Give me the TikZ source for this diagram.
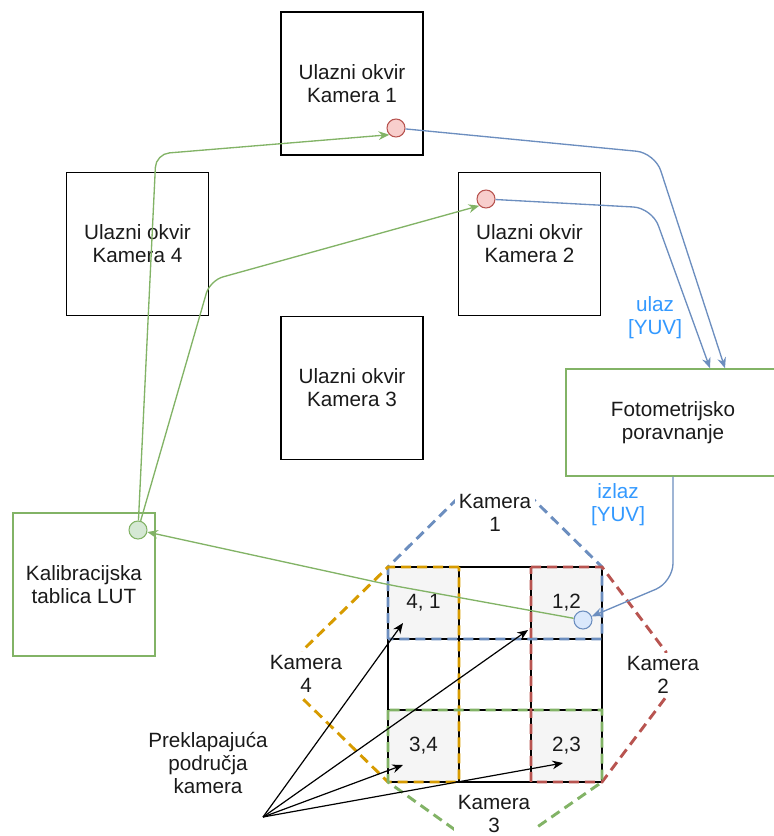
\documentclass[tikz,border=0pt]{standalone}
\usepackage{fontspec}
\setmainfont{Liberation Sans}
\usetikzlibrary{arrows.meta}
\definecolor{gstroke}{HTML}{82B366}
\definecolor{gfill}{HTML}{D5E8D4}
\definecolor{rstroke}{HTML}{B85450}
\definecolor{rfill}{HTML}{F8CECC}
\definecolor{bstroke}{HTML}{6C8EBF}
\definecolor{bfill}{HTML}{DAE8FC}
\definecolor{ostroke}{HTML}{D79B00}
\definecolor{cellfill}{HTML}{F5F5F5}
\definecolor{cellstroke}{HTML}{666666}
\definecolor{lbl}{HTML}{3399FF}
\definecolor{txt}{HTML}{1A1A1A}
\begin{document}
\begin{tikzpicture}[x=0.75pt,y=-0.75pt,
  every node/.style={font=\fontsize{15.5}{17.2}\selectfont, text=txt, align=center, inner sep=0pt},
  frame/.style={draw=black, line width=1.1pt, minimum width=106.5pt, minimum height=107.25pt},
  gframe/.style={draw=gstroke, line width=1.1pt},
  dot/.style={circle, line width=0.8pt, minimum size=13.5pt},
  cellbox/.style={draw=cellstroke, fill=cellfill, line width=0.6pt, minimum size=53.25pt},
  hexline/.style={line width=2.2pt, dash pattern=on 7.5pt off 4.5pt},
  hexlabel/.style={fill=white, inner sep=2.5pt},
  tip/.style={-{Stealth[length=8pt,width=6.5pt]}},
  bline/.style={tip, draw=bstroke, line width=1pt, rounded corners=14pt},
  gline/.style={tip, draw=gstroke, line width=1pt, rounded corners=10pt},
  kline/.style={tip, draw=black, line width=0.9pt},
  yuv/.style={text=lbl}
]
\useasboundingbox (0,0) rectangle (774,836);

% camera frames
\node[frame] (k1) at (352,83.5) {Ulazni okvir\\Kamera 1};
\node[frame] (k4) at (137.5,244) {Ulazni okvir\\Kamera 4};
\node[frame] (k2) at (529.5,244) {Ulazni okvir\\Kamera 2};
\node[frame] (k3) at (352,388) {Ulazni okvir\\Kamera 3};

% processing boxes
\node[gframe, minimum width=160.5pt, minimum height=80.25pt] (foto) at (673,422.5) {Fotometrijsko\\poravnanje};
\node[gframe, minimum width=106.5pt, minimum height=107.25pt] (lut) at (84,584.5) {Kalibracijska\\tablica LUT};

% grid cells
\node[cellbox] (c41) at (423.5,603) {4, 1};
\node[cellbox] (c12) at (566.5,603) {1,2};
\node[cellbox] (c34) at (423.5,746) {3,4};
\node[cellbox] (c23) at (566.5,746) {2,3};
\foreach \x in {388,459,531,602} \draw[line width=1pt] (\x,567) -- (\x,782);
\foreach \y in {567,639,710,782} \draw[line width=1pt] (388,\y) -- (602,\y);

% camera coverage hexagons
\draw[hexline, draw=bstroke] (388,639) -- (388,567) -- (459,497) -- (531,497) -- (602,567) -- (602,639) -- cycle;
\draw[hexline, draw=ostroke] (459,567) -- (388,567) -- (302,651) -- (302,698) -- (388,782) -- (459,782) -- cycle;
\draw[hexline, draw=rstroke] (531,567) -- (602,567) -- (666,652) -- (666,697) -- (602,782) -- (531,782) -- cycle;
\draw[hexline, draw=gstroke] (388,710) -- (388,782) -- (458,832) -- (530,832) -- (602,782) -- (602,710) -- cycle;
\node[hexlabel] (h1) at (495,513) {Kamera\\1};
\node[hexlabel] (h4) at (306,674) {Kamera\\4};
\node[hexlabel] (h2) at (663,675) {Kamera\\2};
\node[hexlabel] (h3) at (494,814) {Kamera\\3};

% port circles
\node[dot, draw=rstroke, fill=rfill] (rc1) at (396,128) {};
\node[dot, draw=rstroke, fill=rfill] (rc2) at (486,199) {};
\node[dot, draw=bstroke, fill=bfill] (bc) at (583,620) {};
\node[dot, draw=gstroke, fill=gfill] (gc) at (138,530) {};

% blue data flow
\draw[bline] (rc1) -- (655,153) -- ([xshift=39pt]foto.north);
\draw[bline] (rc2) -- (652,208) -- ([xshift=27.75pt]foto.north);
\draw[bline] (foto.south) -- (673,582) -- (bc);
\node[yuv] (ulaz) at (655,318) {ulaz\\{[YUV]}};
\node[yuv] (izlaz) at (618,505) {izlaz\\{[YUV]}};

% green LUT flow
\draw[gline] (bc) -- (390,585) -- (gc);
\draw[gline] (gc) -- (156,154) -- (rc1.south west);
\draw[gline] (gc) -- (210,280.5) -- (rc2.south west);

% overlap pointers
\node (ovl) at (208,763) {Preklapajuća\\područja\\kamera};
\coordinate (src) at (263,817);
\coordinate (t41) at (403,623);
\coordinate (t12) at (528,630);
\coordinate (t34) at (403,765);
\coordinate (t23) at (563,763);
\draw[kline] (src) -- (t41);
\draw[kline] (src) -- (t12);
\draw[kline] (src) -- (t34);
\draw[kline] (src) -- (t23);
\end{tikzpicture}
\end{document}
